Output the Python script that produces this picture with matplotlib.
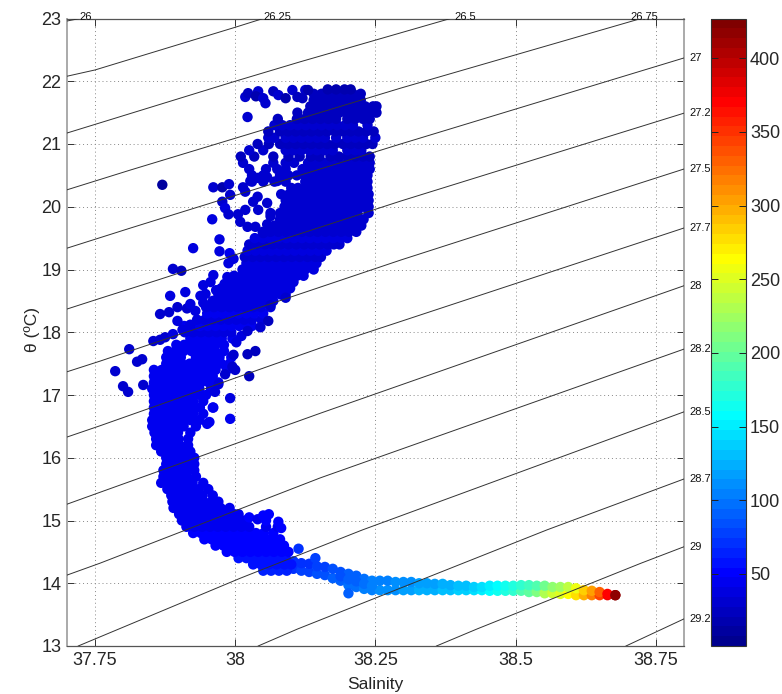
import matplotlib
matplotlib.use('Agg')
import matplotlib.pyplot as plt
import numpy as np
from matplotlib.colors import ListedColormap

plt.rcParams['font.family'] = ['Liberation Sans', 'DejaVu Sans']

# main cloud
row_theta = [14.2, 14.3, 14.4, 14.5, 14.6, 14.7, 14.8, 14.9, 15.0, 15.1, 15.2, 15.3, 15.4, 15.5, 15.6, 15.7,
             15.8, 15.9, 16.0, 16.1, 16.2, 16.3, 16.4, 16.5, 16.6, 16.7, 16.8, 16.9, 17.0, 17.1, 17.2, 17.3,
             17.4, 17.5, 17.6, 17.7, 17.8, 17.9, 18.0, 18.1, 18.2, 18.3, 18.4, 18.5, 18.6, 18.7, 18.8, 18.9,
             19.0, 19.1, 19.2, 19.3, 19.4, 19.5, 19.6, 19.7, 19.8, 19.9, 20.0, 20.1, 20.2, 20.3, 20.4, 20.5,
             20.6, 20.7, 20.8, 20.9, 21.0, 21.1, 21.2, 21.3, 21.4, 21.5, 21.6, 21.7, 21.8, 21.87]
row_depth = [64, 60, 58, 54, 52, 50, 48, 46, 46, 45, 45, 44, 44, 43, 44, 43,
             44, 43, 44, 43, 44, 43, 44, 45, 44, 46, 44, 45, 46, 44, 45, 43,
             44, 42, 44, 42, 41, 43, 40, 42, 39, 41, 38, 40, 37, 39, 36, 38,
             35, 37, 34, 36, 33, 35, 32, 34, 31, 33, 30, 32, 30, 31, 29, 31,
             28, 30, 27, 29, 27, 28, 26, 28, 25, 26, 24, 25, 22, 20]
row_sal = [
    [38.05, 38.064, 38.078, 38.092],
    [38.032, 38.046, 38.06, 38.074, 38.088, 38.10],
    [38.006, 38.02, 38.034, 38.048, 38.062, 38.076, 38.09],
    [37.985, 37.999, 38.013, 38.027, 38.041, 38.055, 38.069, 38.083, 38.095],
    [37.965, 37.979, 37.993, 38.007, 38.021, 38.035, 38.049, 38.063, 38.077, 38.087],
    [37.945, 37.958, 37.972, 37.986, 38.0, 38.014, 38.028, 38.042, 38.056, 38.07, 38.08],
    [37.925, 37.939, 37.953, 37.967, 37.981, 37.995, 38.009, 38.023, 38.037, 38.051, 38.068],
    [37.913, 37.927, 37.941, 37.955, 37.969, 37.983, 37.997, 38.011, 38.025, 38.055, 38.076],
    [37.905, 37.919, 37.933, 37.947, 37.961, 37.975, 37.989, 38.003, 38.017],
    [37.9, 37.914, 37.928, 37.942, 37.956, 37.97, 37.984, 37.998, 38.006],
    [37.89, 37.904, 37.918, 37.932, 37.946, 37.96, 37.974, 37.99],
    [37.888, 37.902, 37.916, 37.93, 37.944, 37.958, 37.97],
    [37.886, 37.9, 37.914, 37.928, 37.942, 37.96],
    [37.879, 37.893, 37.907, 37.921, 37.935, 37.952],
    [37.868, 37.882, 37.896, 37.91, 37.924, 37.943],
    [37.872, 37.886, 37.9, 37.914, 37.93],
    [37.872, 37.884, 37.898, 37.912, 37.927],
    [37.877, 37.891, 37.905, 37.918, 37.927],
    [37.877, 37.889, 37.903, 37.915, 37.927],
    [37.868, 37.882, 37.896, 37.91, 37.92],
    [37.859, 37.873, 37.887, 37.901, 37.916],
    [37.859, 37.871, 37.885, 37.899, 37.916],
    [37.856, 37.87, 37.884, 37.898, 37.92],
    [37.852, 37.866, 37.88, 37.894, 37.908, 37.93],
    [37.852, 37.864, 37.878, 37.892, 37.906, 37.92, 37.936],
    [37.855, 37.869, 37.883, 37.897, 37.911, 37.925, 37.943],
    [37.855, 37.867, 37.881, 37.895, 37.909, 37.923, 37.937, 37.96],
    [37.855, 37.869, 37.883, 37.897, 37.911, 37.925, 37.943],
    [37.855, 37.867, 37.881, 37.895, 37.909, 37.923, 37.937, 37.948],
    [37.852, 37.866, 37.88, 37.894, 37.908, 37.922, 37.936, 37.957],
    [37.855, 37.869, 37.883, 37.897, 37.911, 37.925, 37.939, 37.953, 37.97],
    [37.855, 37.867, 37.881, 37.895, 37.909, 37.923, 37.937, 37.951, 37.96],
    [37.855, 37.869, 37.883, 37.897, 37.911, 37.925, 37.939, 37.953, 37.965, 37.985],
    [37.877, 37.891, 37.905, 37.919, 37.933, 37.947, 37.961, 37.975, 37.99],
    [37.877, 37.889, 37.903, 37.93, 37.944, 37.958, 37.972, 37.993],
    [37.88, 37.894, 37.908, 37.922, 37.936, 37.95, 37.964, 37.98],
    [37.895, 37.909, 37.923, 37.937, 37.951, 37.965, 37.98],
    [37.92, 37.934, 37.948, 37.962, 37.976, 37.995],
    [37.91, 37.925, 37.939, 37.953, 37.967, 37.981, 37.993],
    [37.909, 37.923, 37.937, 37.951, 37.965, 37.979, 37.993, 38.007, 38.021, 38.03],
    [37.932, 37.946, 37.96, 37.974, 37.988, 38.002, 38.016, 38.03, 38.047],
    [37.95, 37.964, 37.978, 37.992, 38.006, 38.02, 38.034, 38.05],
    [37.948, 37.962, 37.976, 37.99, 38.004, 38.018, 38.032, 38.046, 38.063],
    [37.96, 37.974, 37.988, 38.002, 38.016, 38.03, 38.044, 38.056, 38.068],
    [37.97, 37.984, 37.998, 38.012, 38.026, 38.04, 38.054, 38.068, 38.082, 38.09],
    [37.975, 37.989, 38.003, 38.017, 38.031, 38.045, 38.059, 38.073, 38.087, 38.098],
    [37.996, 38.01, 38.024, 38.038, 38.052, 38.066, 38.08, 38.094, 38.104],
    [37.998, 38.012, 38.026, 38.04, 38.054, 38.068, 38.082, 38.096, 38.11, 38.122],
    [38.013, 38.027, 38.041, 38.055, 38.069, 38.083, 38.097, 38.111, 38.125, 38.14],
    [38.02, 38.034, 38.048, 38.062, 38.076, 38.09, 38.104, 38.118, 38.132, 38.145],
    [38.017, 38.031, 38.045, 38.059, 38.073, 38.087, 38.101, 38.115, 38.129, 38.143, 38.153],
    [38.022, 38.036, 38.05, 38.064, 38.078, 38.092, 38.106, 38.12, 38.134, 38.148, 38.163],
    [38.025, 38.039, 38.053, 38.067, 38.081, 38.095, 38.109, 38.123, 38.137, 38.151, 38.165, 38.176, 38.186],
    [38.035, 38.049, 38.063, 38.077, 38.091, 38.105, 38.119, 38.133, 38.147, 38.161, 38.175, 38.189, 38.2],
    [38.049, 38.063, 38.077, 38.091, 38.105, 38.119, 38.133, 38.147, 38.161, 38.175, 38.189, 38.203, 38.216],
    [38.07, 38.084, 38.098, 38.112, 38.126, 38.14, 38.154, 38.168, 38.182, 38.196, 38.21, 38.225],
    [38.08, 38.094, 38.108, 38.122, 38.136, 38.15, 38.164, 38.178, 38.192, 38.206, 38.22, 38.229],
    [38.08, 38.092, 38.106, 38.12, 38.134, 38.148, 38.162, 38.176, 38.19, 38.204, 38.218, 38.238],
    [38.088, 38.102, 38.116, 38.13, 38.144, 38.158, 38.172, 38.186, 38.2, 38.214, 38.228, 38.238],
    [38.09, 38.104, 38.118, 38.132, 38.146, 38.16, 38.174, 38.188, 38.202, 38.216, 38.23, 38.238],
    [38.082, 38.096, 38.11, 38.124, 38.138, 38.152, 38.166, 38.18, 38.194, 38.208, 38.222, 38.238],
    [38.1, 38.112, 38.126, 38.14, 38.154, 38.168, 38.182, 38.196, 38.21, 38.224, 38.236],
    [38.03, 38.05, 38.07, 38.09, 38.125, 38.139, 38.153, 38.167, 38.181, 38.195, 38.209, 38.223, 38.236],
    [38.03, 38.05, 38.08, 38.095, 38.11, 38.124, 38.138, 38.152, 38.166, 38.18, 38.194, 38.208, 38.222, 38.236],
    [38.025, 38.055, 38.075, 38.09, 38.12, 38.134, 38.148, 38.162, 38.176, 38.19, 38.204, 38.218, 38.232, 38.24],
    [38.014, 38.068, 38.09, 38.105, 38.13, 38.144, 38.158, 38.172, 38.186, 38.2, 38.214, 38.228, 38.24],
    [38.01, 38.034, 38.068, 38.095, 38.115, 38.135, 38.15, 38.17, 38.185, 38.2, 38.214, 38.228, 38.24],
    [38.025, 38.05, 38.09, 38.104, 38.118, 38.132, 38.146, 38.16, 38.174, 38.2, 38.214, 38.225],
    [38.04, 38.06, 38.08, 38.094, 38.108, 38.122, 38.136, 38.15, 38.164, 38.178, 38.192, 38.206, 38.22, 38.234, 38.245],
    [38.059, 38.07, 38.09, 38.104, 38.118, 38.132, 38.146, 38.16, 38.18, 38.2, 38.214, 38.228, 38.25],
    [38.059, 38.08, 38.094, 38.108, 38.122, 38.136, 38.15, 38.164, 38.178, 38.192, 38.206, 38.22, 38.234, 38.247],
    [38.07, 38.084, 38.098, 38.112, 38.126, 38.14, 38.154, 38.168, 38.182, 38.196, 38.21, 38.236],
    [38.076, 38.11, 38.124, 38.138, 38.152, 38.166, 38.18, 38.2, 38.214, 38.228, 38.24],
    [38.111, 38.13, 38.144, 38.158, 38.172, 38.186, 38.2, 38.214, 38.228, 38.242, 38.252],
    [38.134, 38.148, 38.162, 38.176, 38.19, 38.204, 38.218, 38.232, 38.246, 38.252],
    [38.14, 38.154, 38.168, 38.182, 38.196, 38.21, 38.224],
    [38.14, 38.154, 38.168, 38.182, 38.196, 38.21, 38.224],
    [38.165, 38.18, 38.195, 38.206],
]

# scattered points off the main cloud
stray_sal = [38.018, 38.023, 38.041, 38.037, 38.05, 38.054, 38.068, 38.077, 38.09, 38.102, 38.111, 38.125, 38.13, 38.12, 38.022,
             37.977, 37.982, 37.988, 38.005, 38.018, 37.959, 38.009, 38.022, 38.036, 38.05, 38.057, 38.063, 38.032, 38.041, 38.063,
             37.991, 38.018, 38.04, 38.057, 38.014, 38.027, 38.041, 38.057, 38.075, 37.87, 37.961, 37.977, 37.989,
             37.972, 37.99, 37.972, 37.925, 37.988, 37.997, 37.889, 37.904, 37.961, 37.986, 37.981, 37.943, 37.956, 37.947, 37.884, 37.911, 37.966,
             37.866, 37.882, 37.897, 37.897, 37.914, 37.929, 37.92, 37.943, 37.938,
             37.92, 37.875, 37.854, 37.866, 37.889, 37.906, 37.92, 37.811, 37.825, 37.834, 37.786, 37.8, 37.809, 37.836,
             37.991, 37.991, 37.95, 37.954, 37.961,
             38.022, 38.036, 38.025, 37.997, 37.995, 38.0, 37.982, 37.97, 37.964,
             38.002, 38.011, 38.022, 38.045, 38.059, 38.09, 38.063,
             38.025, 38.04, 38.05, 38.06, 38.055, 38.077, 38.082,
             38.202, 38.113, 38.143, 38.188, 38.202, 38.216, 38.23, 38.244]
stray_theta = [21.75, 21.81, 21.84, 21.76, 21.73, 21.65, 21.84, 21.78, 21.73, 21.86, 21.75, 21.86, 21.86, 21.73, 21.43,
               20.08, 19.98, 19.88, 19.88, 19.95, 19.8, 19.76, 19.68, 19.68, 19.58, 19.72, 19.9, 20.08, 19.95, 19.85,
               20.19, 20.24, 20.16, 20.06, 20.31, 20.41, 20.46, 20.47, 20.41, 20.35, 20.31, 20.31, 20.36,
               19.48, 19.26, 19.29, 19.34, 19.1, 19.17, 19.01, 18.98, 18.91, 18.88, 18.77, 18.75, 18.8, 18.61, 18.58, 18.64, 18.67,
               18.29, 18.32, 18.18, 18.4, 18.38, 18.34, 18.45, 18.47, 18.58,
               18.04, 17.92, 17.86, 17.88, 17.97, 18.04, 18.12, 17.73, 17.53, 17.57, 17.38, 17.14, 17.05, 17.16,
               16.95, 16.62, 16.54, 16.57, 16.8,
               17.65, 17.7, 17.3, 17.64, 17.45, 17.4, 17.33, 17.17, 17.05,
               17.84, 17.94, 18.02, 18.08, 18.18, 18.55, 18.43,
               15.05, 15.02, 15.08, 15.1, 15.0, 14.98, 14.88,
               13.84, 14.55, 14.4, 14.11, 14.06, 14.03, 13.99, 13.96]
stray_depth = [28, 26, 30, 20, 30, 34, 22, 30, 20, 28, 24, 28, 16, 25, 33,
               34, 36, 34, 32, 32, 38, 32, 34, 32, 33, 30, 30, 33, 31, 33,
               34, 31, 30, 29, 31, 30, 29, 28, 30, 14, 33, 18, 31,
               40, 42, 38, 40, 36, 36, 30, 25, 40, 36, 38, 40, 38, 38, 36, 40, 38,
               33, 33, 36, 34, 31, 40, 38, 40, 36,
               38, 34, 30, 32, 36, 38, 40, 33, 31, 33, 28, 33, 31, 34,
               40, 42, 45, 47, 42,
               27, 24, 25, 33, 31, 29, 34, 36, 38,
               38, 36, 34, 31, 27, 33, 31,
               48, 47, 48, 49, 48, 52, 50,
               92, 68, 76, 86, 90, 94, 98, 102]

# warm end of the curve at depth, upper and lower edge of the tail
tail_sal = [38.09, 38.104, 38.118, 38.132, 38.146, 38.16, 38.174, 38.188, 38.202, 38.216, 38.23, 38.244, 38.258, 38.272,
            38.286, 38.3, 38.314, 38.328, 38.342, 38.356, 38.37, 38.384, 38.398, 38.412, 38.426, 38.44, 38.454, 38.468,
            38.482, 38.496, 38.51, 38.524, 38.538, 38.552, 38.566, 38.58, 38.594, 38.608, 38.622, 38.636, 38.65, 38.664, 38.678]
tail_top = [14.39, 14.35, 14.32, 14.31, 14.27, 14.26, 14.23, 14.18, 14.15, 14.12, 14.07, 14.04, 14.04, 14.04,
            14.02, 14.02, 14.02, 14.0, 14.0, 13.99, 13.99, 13.97, 13.96, 13.96, 13.94, 13.94, 13.96, 13.96,
            13.96, 13.96, 13.97, 13.97, 13.96, 13.96, 13.94, 13.94, 13.94, 13.92, 13.89, 13.88, 13.86, 13.83, 13.81]
tail_low = [14.26, 14.23, 14.2, 14.18, 14.15, 14.13, 14.08, 14.04, 13.97, 13.94, 13.91, 13.89, 13.89, 13.89,
            13.89, 13.89, 13.89, 13.89, 13.89, 13.89, 13.89, 13.89, 13.89, 13.89, 13.89, 13.89, 13.88, 13.88,
            13.88, 13.88, 13.88, 13.86, 13.86, 13.84, 13.84, 13.83, 13.83, 13.81, 13.81, 13.81, 13.81, 13.81, 13.81]
tail_depth_top = [66, 68, 71, 73, 76, 79, 82, 85, 90, 94, 98, 102, 104, 106,
                  108, 111, 114, 116, 118, 120, 123, 126, 130, 134, 138, 144, 150, 156,
                  163, 168, 176, 184, 194, 204, 216, 226, 238, 260, 283, 303, 333, 368, 415]
tail_depth_low = [72, 74, 77, 79, 82, 85, 88, 91, 95, 99, 103, 107, 109, 111,
                  113, 116, 119, 121, 123, 125, 128, 131, 135, 139, 143, 149, 155, 161,
                  168, 176, 188, 198, 213, 228, 243, 253, 263, 278, 298, 318, 343, 378, 415]

# isopycnals, salinity and theta along each line
sigma_labels = ['26', '26.25', '26.5', '26.75', '27', '27.2', '27.5', '27.7', '28', '28.2', '28.5', '28.7', '29', '29.2']
sigma_sal = [[37.7, 37.723],
             [37.7, 37.75, 38.0, 38.05],
             [37.7, 38.0, 38.116, 38.384],
             [37.7, 37.813, 38.295, 38.724],
             [37.7, 37.813, 38.295, 38.8],
             [37.7, 37.759, 37.861, 38.295, 38.8],
             [37.7, 37.759, 38.152, 38.295, 38.8],
             [37.7, 37.759, 38.152, 38.8],
             [37.7, 37.759, 38.152, 38.8],
             [37.7, 37.759, 38.152, 38.8],
             [37.72, 38.009, 38.227, 38.8],
             [38.041, 38.111, 38.556, 38.8],
             [38.359, 38.431, 38.724, 38.8],
             [38.697, 38.8]]
sigma_theta = [[22.96, 23.0],
               [22.08, 22.18, 22.86, 23.0],
               [21.175, 22.0, 22.31, 23.0],
               [20.27, 20.585, 21.89, 23.0],
               [19.34, 19.66, 21.0, 22.37],
               [18.37, 18.54, 18.83, 20.09, 21.49],
               [17.37, 17.54, 18.72, 19.15, 20.6],
               [16.33, 16.51, 17.75, 19.66],
               [15.26, 15.45, 16.71, 18.74],
               [14.13, 14.32, 15.68, 17.73],
               [13.0, 14.08, 14.85, 16.73],
               [13.0, 13.27, 14.85, 15.66],
               [13.0, 13.27, 14.32, 14.58],
               [13.0, 13.43]]
top_label_sal = [37.734, 38.076, 38.41, 38.73]
right_label_theta = [22.37, 21.49, 20.6, 19.66, 18.74, 17.73, 16.73, 15.66, 14.58, 13.43]

x_ticks = [37.75, 38, 38.25, 38.5, 38.75]
x_ticklabels = ['37.75', '38', '38.25', '38.5', '38.75']
y_ticks = [13, 14, 15, 16, 17, 18, 19, 20, 21, 22, 23]
cbar_ticks = [50, 100, 150, 200, 250, 300, 350, 400]

# matlab style jet, 64 steps
lev = np.arange(1, 65) / 64
jet64 = ListedColormap(np.column_stack([np.clip(1.5 - np.abs(4 * lev - 3), 0, 1),
                                        np.clip(1.5 - np.abs(4 * lev - 2), 0, 1),
                                        np.clip(1.5 - np.abs(4 * lev - 1), 0, 1)]))

W, H = 782, 694
fig = plt.figure(figsize=(W / 100, H / 100), dpi=100)
ax = fig.add_axes([67 / W, 1 - 646 / H, (683.7 - 67) / W, (646 - 18.5) / H])

sal = list(tail_sal) + list(tail_sal)
theta = list(tail_low) + list(tail_top)
depth = list(tail_depth_low) + list(tail_depth_top)
for t, d, row in zip(row_theta, row_depth, row_sal):
    sal += row
    theta += [t] * len(row)
    depth += [d] * len(row)
sal += stray_sal
theta += stray_theta
depth += stray_depth

sc = ax.scatter(sal, theta, c=depth, s=56, cmap=jet64, vmin=1, vmax=427, linewidths=0, zorder=3)

for s, t in zip(sigma_sal, sigma_theta):
    ax.plot(s, t, color='#333333', lw=0.7, zorder=4, clip_on=True)

for lab, s in zip(sigma_labels[:4], top_label_sal):
    ax.text(s, 23.03, lab, fontsize=8, ha='center', va='center', color='#111111', clip_on=False)
for lab, t in zip(sigma_labels[4:], right_label_theta):
    ax.text(38.81, t, lab, fontsize=8, ha='left', va='center', color='#111111', clip_on=False)

ax.set_xlim(37.7, 38.8)
ax.set_ylim(13, 23)
ax.set_xticks(x_ticks)
ax.set_xticklabels(x_ticklabels)
ax.set_yticks(y_ticks)
ax.grid(True, linestyle=(0, (1, 3)), color='#888888', lw=0.7)
ax.set_axisbelow(True)
ax.tick_params(direction='in', length=5, width=0.7, color='#333333', labelcolor='#262626', labelsize=13,
               top=True, right=True, pad=4)
ax.set_xlabel('Salinity', fontsize=12.5, color='#262626', labelpad=6)
ax.set_ylabel('θ (ºC)', fontsize=12.5, color='#262626', labelpad=1, y=0.505)
for side in ['left', 'right']:
    ax.spines[side].set_color('#aaaaaa')
    ax.spines[side].set_linewidth(1.4)
for side in ['top', 'bottom']:
    ax.spines[side].set_color('#555555')
    ax.spines[side].set_linewidth(0.9)

cax = fig.add_axes([711 / W, 1 - 646 / H, (745.7 - 711) / W, (646 - 18.5) / H])
cb = fig.colorbar(sc, cax=cax)
cb.set_ticks(cbar_ticks)
cb.outline.set_edgecolor('#333333')
cb.outline.set_linewidth(0.8)
cax.tick_params(direction='in', length=5, width=0.7, color='#222222', labelcolor='#262626', labelsize=13,
                left=True, right=True, pad=3)

fig.savefig('out.png', dpi=100)
